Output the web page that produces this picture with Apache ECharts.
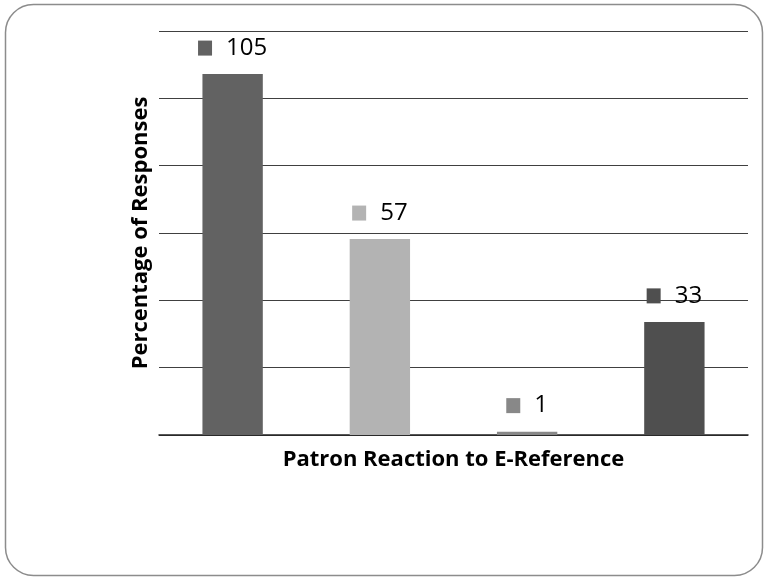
<!DOCTYPE html>
<html>
<head>
<meta charset="utf-8">
<script src="https://cdn.jsdelivr.net/npm/echarts@6/dist/echarts.min.js"></script>
<style>html,body{margin:0;padding:0;background:#fff;}#c{width:764px;height:577px;}</style>
</head>
<body>
<div id="c"></div>
<script>
const categories = ['A', 'B', 'C', 'D'];
const counts = [105, 57, 1, 33];
const percentages = [53.6, 29.1, 0.5, 16.8];
const colors = ['#626262', '#b3b3b3', '#888888', '#4f4f4f'];
const yTicks = [0, 10, 20, 30, 40, 50, 60];

const chart = echarts.init(document.getElementById('c'));
const FONT = 'Open Sans';
chart.setOption({
  animation: false,
  backgroundColor: '#fff',
  graphic: [{
    type: 'rect',
    shape: { x: 5.5, y: 4.5, width: 757, height: 571, r: 28 },
    style: { fill: 'none', stroke: '#8c8c8c', lineWidth: 1.5 },
    z: -1
  }],
  grid: { left: 159, right: 16, top: 31, bottom: 142 },
  xAxis: {
    type: 'category',
    data: categories,
    axisLine: { show: true, lineStyle: { color: '#222', width: 1.5 } },
    axisTick: { show: false },
    axisLabel: { show: false },
    name: 'Patron Reaction to E-Reference',
    nameLocation: 'middle',
    nameGap: 14,
    nameTextStyle: { fontFamily: FONT, fontWeight: 'bold', fontSize: 22, color: '#000' }
  },
  yAxis: {
    type: 'value',
    min: yTicks[0],
    max: yTicks[yTicks.length - 1],
    interval: yTicks[1] - yTicks[0],
    axisLine: { show: false },
    axisTick: { show: false },
    axisLabel: { show: false },
    splitLine: { lineStyle: { color: '#404040', width: 1.2 } },
    name: 'Percentage of Responses',
    nameLocation: 'middle',
    nameGap: 7,
    nameTextStyle: { fontFamily: FONT, fontWeight: 'bold', fontSize: 22, color: '#000' }
  },
  series: [{
    type: 'bar',
    barWidth: '41%',
    data: percentages.map((v, i) => ({
      value: v,
      itemStyle: { color: colors[i] },
      label: {
        rich: {
          sq: { width: 14, height: 15, backgroundColor: colors[i] },
          v: { fontFamily: FONT, fontSize: 24, color: '#000', padding: [0, 0, 0, 14] }
        }
      }
    })),
    label: {
      show: true,
      position: 'top',
      distance: 14,
      formatter: p => '{sq|}{v|' + counts[p.dataIndex] + '}'
    }
  }]
});
</script>
</body>
</html>
